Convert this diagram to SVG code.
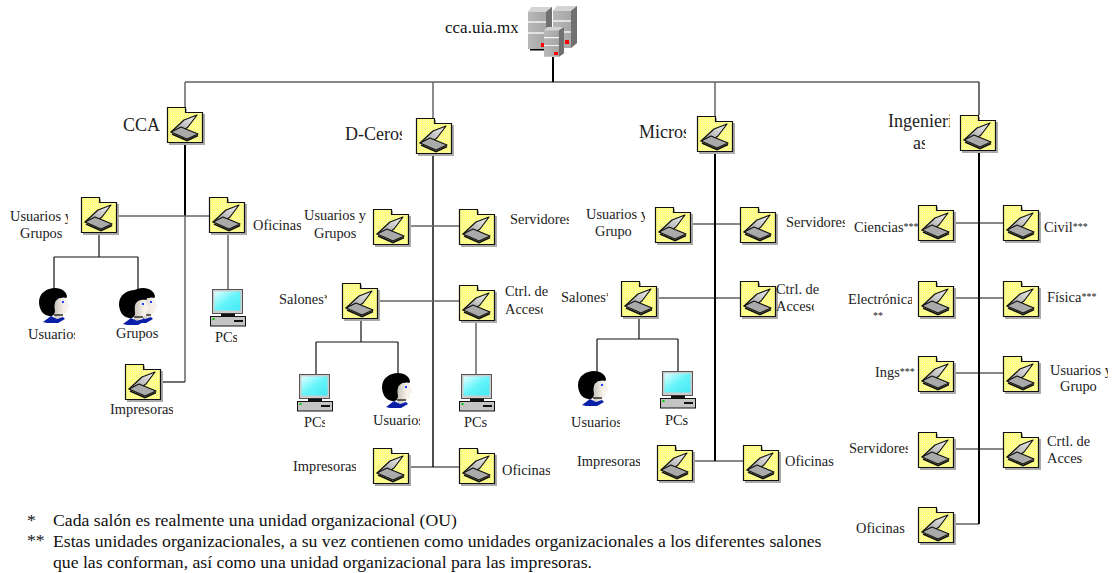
<svg xmlns="http://www.w3.org/2000/svg" width="1112" height="573" viewBox="0 0 1112 573">
<style>
text{font-family:"Liberation Serif","Times New Roman",serif;font-size:14.4px;fill:#222}
.b{font-size:18px}
.n{font-size:17.7px;fill:#111}
.a{font-size:10px}
.l{fill:none;stroke:#111;stroke-width:1.2}
.t{fill:none;stroke:#000;stroke-width:2}
.g{fill:none;stroke:#666;stroke-width:1.5}
</style>
<defs>
<pattern id="dots" width="2" height="2" patternUnits="userSpaceOnUse"><rect width="2" height="2" fill="#ffff80"/><rect width="1" height="1" fill="#f4f0b0"/></pattern>
<linearGradient id="lid" x1="0" y1="1" x2="1" y2="0"><stop offset="0" stop-color="#999"/><stop offset="1" stop-color="#f4f4f4"/></linearGradient>
<linearGradient id="scr" x1="0" y1="0" x2="1" y2="1"><stop offset="0" stop-color="#e0ffff"/><stop offset=".5" stop-color="#66f4fa"/><stop offset="1" stop-color="#44e8f4"/></linearGradient>
<linearGradient id="face" x1="0" y1="0" x2="1" y2="0"><stop offset="0" stop-color="#c8c4bc"/><stop offset=".6" stop-color="#f6f2ea"/></linearGradient>
<linearGradient id="srv" x1="0" y1="0" x2="1" y2="0"><stop offset="0" stop-color="#b8b8b8"/><stop offset="1" stop-color="#a0a0a0"/></linearGradient>
<g id="folder">
<path d="M2 2H20V7H38V38H2Z" fill="#aaa"/>
<path d="M.5 .5H18.500V5.500H35.500V35.500H.5Z" fill="url(#dots)" stroke="#111" stroke-width="1.2"/>
<path d="M4 25L17 13L30 8L21 20L14 25Z" fill="url(#lid)" stroke="#111" stroke-width="1.2" stroke-linejoin="round"/>
<path d="M4 25L14 20L31 27L20 32Z" fill="#aaa" stroke="#111" stroke-width="1.2" stroke-linejoin="round"/>
<path d="M5 27L20 33.500L31 28.500" fill="none" stroke="#111" stroke-width="1.600"/>
</g>
<g id="pc">
<rect x="2.500" y=".5" width="30" height="24" fill="#ccc" stroke="#555"/>
<rect x="4.500" y="2.500" width="26" height="19" fill="url(#scr)"/>
<rect x="11" y="24.500" width="14" height="3" fill="#111"/>
<rect x=".5" y="27.500" width="35" height="9.500" fill="#c4c4c4" stroke="#111"/>
<rect x="2.500" y="29" width="2" height="2" fill="#0c0"/>
<rect x="24" y="31" width="9" height="2" fill="#111"/>
</g>
<g id="person">
<path d="M10 28C3 27 0 20 0 14C0 5 8 0 16 0C23 0 28 4 28 9L27 10C23 9 19 10 17 13C15 16 16 20 16 23C16 26 14 29 10 28Z" fill="#000"/>
<path d="M17 13C19 10 23 9 27 10L28 14L31 19L28 21L27 26L24 27L24 30L16 31C15 28 16 26 16 23C16 20 15 16 17 13Z" fill="url(#face)"/>
<path d="M15 27L24 27" stroke="#000" stroke-width="1.200"/>
<path d="M4 34L12 28L18 31L24 29L26 31L19 35H8Z" fill="#0a1fa8"/>
<rect x="23" y="13" width="2" height="2" fill="#2244ff"/>
</g>
<g id="server">
<path d="M0 5L4 0H24V37L18 42H0Z" fill="url(#srv)"/>
<path d="M0 5L4 0H24L18 5Z" fill="#d4d4d4"/>
<path d="M18 5L24 0V37L18 42Z" fill="#707070"/>
<path d="M0 15H18M0 26H18" stroke="#f4f4f4" stroke-width="1.500"/>
</g>
<clipPath id="c1"><rect x="0" y="200" width="68" height="40"/></clipPath>
<clipPath id="c3"><rect x="20" y="325" width="55" height="20"/></clipPath>
<clipPath id="c4"><rect x="210" y="330" width="27" height="20"/></clipPath>
<clipPath id="c5"><rect x="340" y="120" width="62" height="30"/></clipPath>
<clipPath id="c6"><rect x="300" y="205" width="67" height="40"/></clipPath>
<clipPath id="c7"><rect x="505" y="205" width="64" height="30"/></clipPath>
<clipPath id="c8"><rect x="275" y="285" width="52" height="30"/></clipPath>
<clipPath id="c9"><rect x="500" y="300" width="43" height="20"/></clipPath>
<clipPath id="c10"><rect x="295" y="410" width="30" height="22"/></clipPath>
<clipPath id="c11"><rect x="370" y="410" width="50" height="22"/></clipPath>
<clipPath id="c12"><rect x="460" y="410" width="27" height="22"/></clipPath>
<clipPath id="c13"><rect x="290" y="455" width="66" height="22"/></clipPath>
<clipPath id="c14"><rect x="500" y="460" width="50" height="22"/></clipPath>
<clipPath id="c15"><rect x="635" y="120" width="51" height="25"/></clipPath>
<clipPath id="c16"><rect x="580" y="205" width="65" height="40"/></clipPath>
<clipPath id="c17"><rect x="785" y="210" width="60" height="25"/></clipPath>
<clipPath id="c18"><rect x="555" y="285" width="53" height="25"/></clipPath>
<clipPath id="c19"><rect x="775" y="298" width="39" height="22"/></clipPath>
<clipPath id="c20"><rect x="565" y="410" width="55" height="25"/></clipPath>
<clipPath id="c21"><rect x="660" y="410" width="30" height="22"/></clipPath>
<clipPath id="c22"><rect x="570" y="450" width="70" height="25"/></clipPath>
<clipPath id="c23"><rect x="785" y="450" width="49" height="25"/></clipPath>
<clipPath id="c24"><rect x="880" y="110" width="70" height="45"/></clipPath>
<clipPath id="c25"><rect x="845" y="285" width="67" height="20"/></clipPath>
<clipPath id="c26"><rect x="1045" y="360" width="63" height="40"/></clipPath>
<clipPath id="c27"><rect x="845" y="440" width="63" height="20"/></clipPath>
<clipPath id="c28"><rect x="1045" y="450" width="38" height="20"/></clipPath>
<clipPath id="c29"><rect x="440" y="15" width="78" height="25"/></clipPath>
<clipPath id="c30"><rect x="205" y="215" width="96" height="20"/></clipPath>
<clipPath id="c31"><rect x="100" y="400" width="73" height="20"/></clipPath>
<clipPath id="c33"><rect x="910" y="135" width="15" height="25"/></clipPath>
<clipPath id="c34"><rect x="20" y="510" width="802" height="63"/></clipPath>
</defs>

<g id="connectors">
<path class="l" d="M185 82H979"/><path class="t" d="M553 57V82"/>
<path class="g" d="M185 82V107"/><path class="t" d="M185 143V216"/><path class="g" d="M185 216V382"/>
<path class="l" d="M161 382H185"/>
<path class="g" d="M118 216H209M228 233V289"/>
<path class="l" d="M99 233V257M54 257H138M54 257V289M138 257V290"/>
<path class="g" d="M433 82V118"/><path class="l" d="M433 154V467" style="stroke-width:1.500"/>
<path class="g" d="M409 226H459M378 301H459M476 321V374"/>
<path class="l" d="M361 319V342M316 342H398M316 342V374M398 342V374M409 467H459"/>
<path class="g" d="M715 82V116"/><path class="t" d="M715 152V461"/>
<path class="l" d="M691 224H740M657 298H740M639 317V339M597 339H678M597 339V372M678 339V372M693 461H743"/>
<path class="l" d="M979 82V115"/><path class="t" d="M979 151V524"/>
<path class="l" d="M954 223H1003M954 298H1003M954 373H1003M954 449H1003M954 524H979"/>
</g>

<g id="root"><path d="M530 49.500H546" stroke="#000" stroke-width="2"/><use href="#server" x="528" y="7"/><use href="#server" x="553" y="6"/><rect x="541" y="43" width="4" height="4" fill="#f00"/><rect x="565" y="40" width="4" height="4" fill="#f00"/><g transform="translate(544 27) scale(.83 .71)"><use href="#server"/></g><rect x="554" y="52" width="4" height="3" fill="#f00"/><text class="n" x="445" y="33" style="font-size:17px" clip-path="url(#c29)">cca.uia.mx</text></g>

<g id="cca"><use href="#folder" x="167" y="107"/><text class="b" x="123" y="131">CCA</text></g>
<g id="cca-usuarios"><use href="#folder" x="81" y="197"/><text x="10" y="221" clip-path="url(#c1)">Usuarios y</text><text x="20" y="238">Grupos</text></g>
<g id="cca-oficinas"><use href="#folder" x="209" y="197"/><text x="253" y="230" clip-path="url(#c30)">Oficinas</text></g>
<g id="cca-u"><use href="#person" x="39" y="288"/><text x="28" y="339" clip-path="url(#c3)">Usuarios</text></g>
<g id="cca-g"><use href="#person" x="127" y="288"/><use href="#person" x="119" y="290"/><text x="116" y="338">Grupos</text></g>
<g id="cca-pc"><use href="#pc" x="210" y="289"/><text x="215" y="342" clip-path="url(#c4)">PCs</text></g>
<g id="cca-imp"><use href="#folder" x="125" y="364"/><text x="110" y="414" clip-path="url(#c31)">Impresoras</text></g>

<g id="dceros"><use href="#folder" x="416" y="118"/><text class="b" x="345" y="140" clip-path="url(#c5)">D-Ceros</text></g>
<g id="d-usuarios"><use href="#folder" x="373" y="209"/><text x="304" y="220" clip-path="url(#c6)">Usuarios y</text><text x="314" y="238">Grupos</text></g>
<g id="d-servidores"><use href="#folder" x="459" y="209"/><text x="510" y="224" clip-path="url(#c7)">Servidores</text></g>
<g id="d-salones"><use href="#folder" x="342" y="283"/><text x="279" y="304" clip-path="url(#c8)">Salones*</text></g>
<g id="d-ctrl"><use href="#folder" x="459" y="285"/><text x="505" y="296">Ctrl. de</text><text x="505" y="314" clip-path="url(#c9)">Acceso</text></g>
<g id="d-pc1"><use href="#pc" x="297" y="374"/><text x="304" y="427" clip-path="url(#c10)">PCs</text></g>
<g id="d-u"><use href="#person" x="382" y="373"/><text x="373" y="425" clip-path="url(#c11)">Usuarios</text></g>
<g id="d-pc2"><use href="#pc" x="459" y="374"/><text x="464" y="427" clip-path="url(#c12)">PCs</text></g>
<g id="d-imp"><use href="#folder" x="373" y="448"/><text x="293" y="471" clip-path="url(#c13)">Impresoras</text></g>
<g id="d-ofi"><use href="#folder" x="459" y="448"/><text x="502" y="475" clip-path="url(#c14)">Oficinas</text></g>

<g id="micros"><use href="#folder" x="697" y="116"/><text class="b" x="639" y="138" clip-path="url(#c15)">Micros</text></g>
<g id="m-usuarios"><use href="#folder" x="655" y="207"/><text x="586" y="219" clip-path="url(#c16)">Usuarios y</text><text x="595" y="236">Grupo</text></g>
<g id="m-servidores"><use href="#folder" x="740" y="207"/><text x="786" y="227" clip-path="url(#c17)">Servidores</text></g>
<g id="m-salones"><use href="#folder" x="621" y="281"/><text x="561" y="302" clip-path="url(#c18)">Salones*</text></g>
<g id="m-ctrl"><use href="#folder" x="740" y="281"/><text x="776" y="294">Ctrl. de</text><text x="776" y="311" clip-path="url(#c19)">Acceso</text></g>
<g id="m-u"><use href="#person" x="578" y="371"/><text x="571" y="427" clip-path="url(#c20)">Usuarios</text></g>
<g id="m-pc"><use href="#pc" x="660" y="371"/><text x="665" y="425" clip-path="url(#c21)">PCs</text></g>
<g id="m-imp"><use href="#folder" x="657" y="445"/><text x="577" y="466" clip-path="url(#c22)">Impresoras</text></g>
<g id="m-ofi"><use href="#folder" x="743" y="445"/><text x="785" y="466" clip-path="url(#c23)">Oficinas</text></g>

<g id="ing"><use href="#folder" x="960" y="115"/><text class="b" x="888" y="127" clip-path="url(#c24)">Ingenieri</text><text class="b" x="913" y="149" clip-path="url(#c33)">as</text></g>
<g id="i-ciencias"><use href="#folder" x="918" y="205"/><text x="854" y="232">Ciencias<tspan class="a" dy="-2">***</tspan></text></g>
<g id="i-civil"><use href="#folder" x="1003" y="205"/><text x="1044" y="232">Civil<tspan class="a" dy="-2">***</tspan></text></g>
<g id="i-elec"><use href="#folder" x="918" y="281"/><text x="848" y="304" clip-path="url(#c25)">Electrónica</text><text class="a" x="873" y="319">**</text></g>
<g id="i-fisica"><use href="#folder" x="1003" y="281"/><text x="1047" y="302">Física<tspan class="a" dy="-2">***</tspan></text></g>
<g id="i-ings"><use href="#folder" x="918" y="356"/><text x="875" y="377">Ings<tspan class="a" dy="-2">***</tspan></text></g>
<g id="i-usu"><use href="#folder" x="1003" y="356"/><text x="1050" y="375" clip-path="url(#c26)">Usuarios y</text><text x="1060" y="391">Grupo</text></g>
<g id="i-serv"><use href="#folder" x="918" y="432"/><text x="849" y="453" clip-path="url(#c27)">Servidores</text></g>
<g id="i-crtl"><use href="#folder" x="1003" y="432"/><text x="1047" y="446">Crtl. de</text><text x="1047" y="463" clip-path="url(#c28)">Acceso</text></g>
<g id="i-ofi"><use href="#folder" x="918" y="507"/><text x="856" y="533">Oficinas</text></g>

<g id="notes" clip-path="url(#c34)">
<text class="n" x="27" y="526">*</text><text class="n" x="53" y="526">Cada salón es realmente una unidad organizacional (OU)</text>
<text class="n" x="27" y="546">**</text><text class="n" x="53" y="547">Estas unidades organizacionales, a su vez contienen como unidades organizacionales a los diferentes salones</text>
<text class="n" x="53" y="568">que las conforman, así como una unidad organizacional para las impresoras.</text>
</g>
</svg>
